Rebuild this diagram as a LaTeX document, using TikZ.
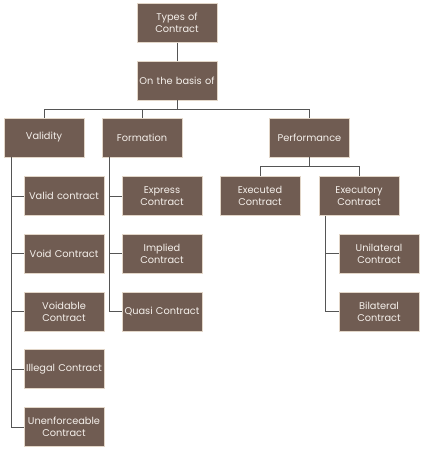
\documentclass[tikz,border=0pt]{standalone}
\usepackage{fontspec}
\setmainfont{Poppins}
\usepackage{xcolor}
\definecolor{boxbrown}{RGB}{112,92,82}
\definecolor{boxedge}{RGB}{226,214,200}
\definecolor{linegray}{RGB}{85,85,85}
\definecolor{textlight}{RGB}{245,240,235}
\usepackage{tikz}
\usetikzlibrary{positioning, calc}
\tikzset{
  typebox/.style={
    rectangle, draw=boxedge, fill=boxbrown, line width=0.6pt,
    minimum width=80pt, minimum height=39pt, inner sep=1pt,
    text width=78pt, align=center, text=textlight,
    font=\fontsize{9.8}{12.3}\selectfont
  },
  link/.style={line width=1pt, color=linegray},
}

\begin{document}
\begin{tikzpicture}[x=1pt, y=-1pt]
  \useasboundingbox (0,0) rectangle (424,450);

  \node (types)    [typebox] at (177,23)    {Types of\\Contract};
  \node (basis)    [typebox] at (177,80.5)  {On the basis of};

  \node (validity) [typebox] at (44,137.5)    {Validity};
  \node (formation)[typebox] at (142,137.5)   {Formation};
  \node (perform)  [typebox] at (309.5,137.5) {Performance};

  \node (valid)    [typebox] at (64,196)   {Valid contract};
  \node (void)     [typebox] at (64,253.5) {Void Contract};
  \node (voidable) [typebox] at (64,311.5) {Voidable\\Contract};
  \node (illegal)  [typebox] at (64,369)   {Illegal Contract};
  \node (unenf)    [typebox] at (64,427)   {Unenforceable\\Contract};

  \node (express)  [typebox] at (162,196)   {Express\\Contract};
  \node (implied)  [typebox] at (162,253.5) {Implied\\Contract};
  \node (quasi)    [typebox] at (162,311.5) {Quasi Contract};

  \node (executed) [typebox] at (260,196) {Executed\\Contract};
  \node (executory)[typebox] at (359,196) {Executory\\Contract};

  \node (unilat)   [typebox] at (379,253.5) {Unilateral\\Contract};
  \node (bilat)    [typebox] at (379,311.5) {Bilateral\\Contract};

  % level one
  \draw [link] (types) -- (basis);
  \draw [link] (basis.south) -- ++(0,9) -| (validity.north);
  \draw [link] (basis.south) -- ++(0,9) -| (formation.north);
  \draw [link] (basis.south) -- ++(0,9) -| (perform.north);

  % validity branch
  \coordinate (vbus) at ($(validity.south west)+(8,0)$);
  \foreach \kid in {valid, void, voidable, illegal, unenf}
    \draw [link] (vbus) |- (\kid.west);

  % formation branch
  \coordinate (fbus) at ($(formation.south west)+(8,0)$);
  \foreach \kid in {express, implied, quasi}
    \draw [link] (fbus) |- (\kid.west);

  % performance branch
  \draw [link] (perform.south) -- ++(0,9) -| (executed.north);
  \draw [link] (perform.south) -- ++(0,9) -| (executory.north);
  \coordinate (ebus) at ($(executory.south west)+(7,0)$);
  \foreach \kid in {unilat, bilat}
    \draw [link] (ebus) |- (\kid.west);
\end{tikzpicture}
\end{document}
